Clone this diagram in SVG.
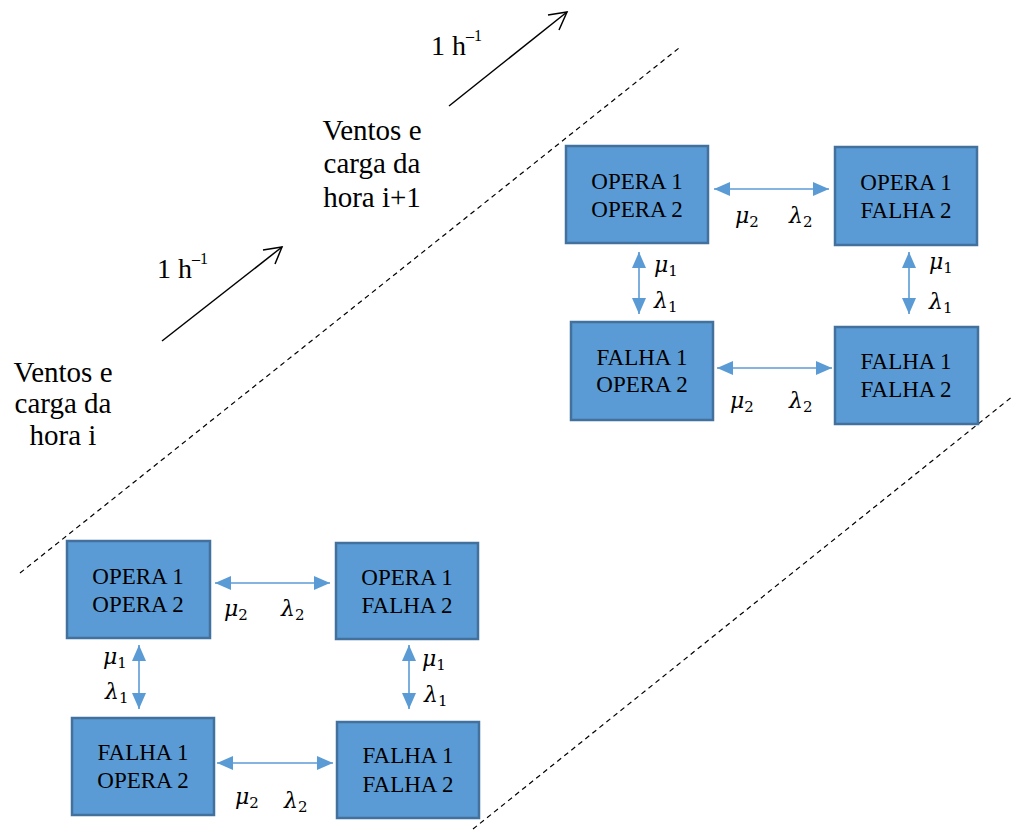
<svg xmlns="http://www.w3.org/2000/svg" width="1017" height="830" viewBox="0 0 1017 830">
  <style>
    .box { fill: #5B9BD5; stroke: #41719C; stroke-width: 2.5; }
    .btxt { font-family: "Liberation Serif", "Times New Roman", serif; font-size: 23px; fill: #000; text-anchor: middle; }
    .link { stroke: #5B9BD5; stroke-width: 1.6; fill: none; marker-start: url(#tri); marker-end: url(#tri); }
    .rate { font-family: "DejaVu Serif", "Liberation Serif", serif; font-style: italic; font-size: 22px; fill: #000; }
    .sub { font-style: normal; font-size: 15px; }
    .note { font-family: "Liberation Serif", "Times New Roman", serif; font-size: 29px; fill: #000; text-anchor: middle; }
    .unit { font-family: "Liberation Serif", "Times New Roman", serif; font-size: 28px; fill: #000; }
    .sup { font-size: 16px; }
    .divider { stroke: #000; stroke-width: 1.2; stroke-dasharray: 5 4; fill: none; }
    .step { stroke: #000; stroke-width: 1.5; fill: none; }
  </style>
  <defs>
    <marker id="tri" markerUnits="userSpaceOnUse" markerWidth="16" markerHeight="14" refX="16" refY="7" orient="auto-start-reverse">
      <path d="M0,0 L16,7 L0,14 z" fill="#5B9BD5"/>
    </marker>
  </defs>

  <rect width="1017" height="830" fill="#fff"/>

  <!-- hour boundaries -->
  <g id="dividers">
    <line class="divider" x1="20" y1="573" x2="679" y2="48"/>
    <line class="divider" x1="473" y1="829" x2="1013" y2="396"/>
  </g>

  <!-- time steps -->
  <g id="time-steps">
    <line class="step" x1="162" y1="341" x2="282" y2="247"/>
    <polyline class="step" points="263,250 282,247 275,264"/>
    <line class="step" x1="449" y1="106" x2="567" y2="12"/>
    <polyline class="step" points="548,15 567,12 559,30"/>
    <text class="unit" x="157" y="278">1 h<tspan class="sup" dy="-14">–1</tspan></text>
    <text class="unit" x="431" y="55">1 h<tspan class="sup" dy="-14">–1</tspan></text>
  </g>

  <g id="label-hour-i">
    <text class="note" x="63" y="382">Ventos e</text>
    <text class="note" x="63" y="413">carga da</text>
    <text class="note" x="63" y="445">hora i</text>
  </g>
  <g id="label-hour-i1">
    <text class="note" x="372" y="140">Ventos e</text>
    <text class="note" x="372" y="173">carga da</text>
    <text class="note" x="372" y="207">hora i+1</text>
  </g>

  <!-- states for hour i+1 -->
  <g id="s1-oo">
    <rect class="box" x="566" y="146" width="142" height="97"/>
    <text class="btxt" x="637" y="189">OPERA 1</text>
    <text class="btxt" x="637" y="217">OPERA 2</text>
  </g>
  <g id="s1-of">
    <rect class="box" x="835" y="147" width="142" height="98"/>
    <text class="btxt" x="906" y="190">OPERA 1</text>
    <text class="btxt" x="906" y="218">FALHA 2</text>
  </g>
  <g id="s1-fo">
    <rect class="box" x="571" y="322" width="142" height="98"/>
    <text class="btxt" x="642" y="365">FALHA 1</text>
    <text class="btxt" x="642" y="392">OPERA 2</text>
  </g>
  <g id="s1-ff">
    <rect class="box" x="835" y="327" width="143" height="97"/>
    <text class="btxt" x="906" y="369">FALHA 1</text>
    <text class="btxt" x="906" y="397">FALHA 2</text>
  </g>

  <!-- states for hour i -->
  <g id="s0-oo">
    <rect class="box" x="67" y="541" width="143" height="97"/>
    <text class="btxt" x="138" y="584">OPERA 1</text>
    <text class="btxt" x="138" y="612">OPERA 2</text>
  </g>
  <g id="s0-of">
    <rect class="box" x="336" y="543" width="142" height="96"/>
    <text class="btxt" x="407" y="585">OPERA 1</text>
    <text class="btxt" x="407" y="613">FALHA 2</text>
  </g>
  <g id="s0-fo">
    <rect class="box" x="72" y="718" width="142" height="97"/>
    <text class="btxt" x="143" y="760">FALHA 1</text>
    <text class="btxt" x="143" y="788">OPERA 2</text>
  </g>
  <g id="s0-ff">
    <rect class="box" x="337" y="722" width="142" height="96"/>
    <text class="btxt" x="408" y="763">FALHA 1</text>
    <text class="btxt" x="408" y="792">FALHA 2</text>
  </g>

  <!-- transitions -->
  <g id="connectors">
    <line class="link" x1="714" y1="189" x2="829" y2="189"/>
    <line class="link" x1="717" y1="368" x2="832" y2="368"/>
    <line class="link" x1="639" y1="252" x2="639" y2="314"/>
    <line class="link" x1="909" y1="252" x2="909" y2="314"/>
    <line class="link" x1="215" y1="583" x2="330" y2="583"/>
    <line class="link" x1="217" y1="763" x2="333" y2="763"/>
    <line class="link" x1="139" y1="645" x2="139" y2="709"/>
    <line class="link" x1="409" y1="645" x2="409" y2="709"/>

    <text class="rate" x="735" y="223">μ<tspan class="sub" dy="4">2</tspan></text>
    <text class="rate" x="789" y="223">λ<tspan class="sub" dy="4">2</tspan></text>
    <text class="rate" x="654" y="272">μ<tspan class="sub" dy="4">1</tspan></text>
    <text class="rate" x="654" y="308">λ<tspan class="sub" dy="4">1</tspan></text>
    <text class="rate" x="929" y="269">μ<tspan class="sub" dy="4">1</tspan></text>
    <text class="rate" x="929" y="309">λ<tspan class="sub" dy="4">1</tspan></text>
    <text class="rate" x="730" y="408">μ<tspan class="sub" dy="4">2</tspan></text>
    <text class="rate" x="789" y="408">λ<tspan class="sub" dy="4">2</tspan></text>

    <text class="rate" x="224" y="616">μ<tspan class="sub" dy="4">2</tspan></text>
    <text class="rate" x="281" y="616">λ<tspan class="sub" dy="4">2</tspan></text>
    <text class="rate" x="103" y="664">μ<tspan class="sub" dy="4">1</tspan></text>
    <text class="rate" x="105" y="699">λ<tspan class="sub" dy="4">1</tspan></text>
    <text class="rate" x="422" y="666">μ<tspan class="sub" dy="4">1</tspan></text>
    <text class="rate" x="424" y="702">λ<tspan class="sub" dy="4">1</tspan></text>
    <text class="rate" x="235" y="804">μ<tspan class="sub" dy="4">2</tspan></text>
    <text class="rate" x="284" y="808">λ<tspan class="sub" dy="4">2</tspan></text>
  </g>
</svg>
